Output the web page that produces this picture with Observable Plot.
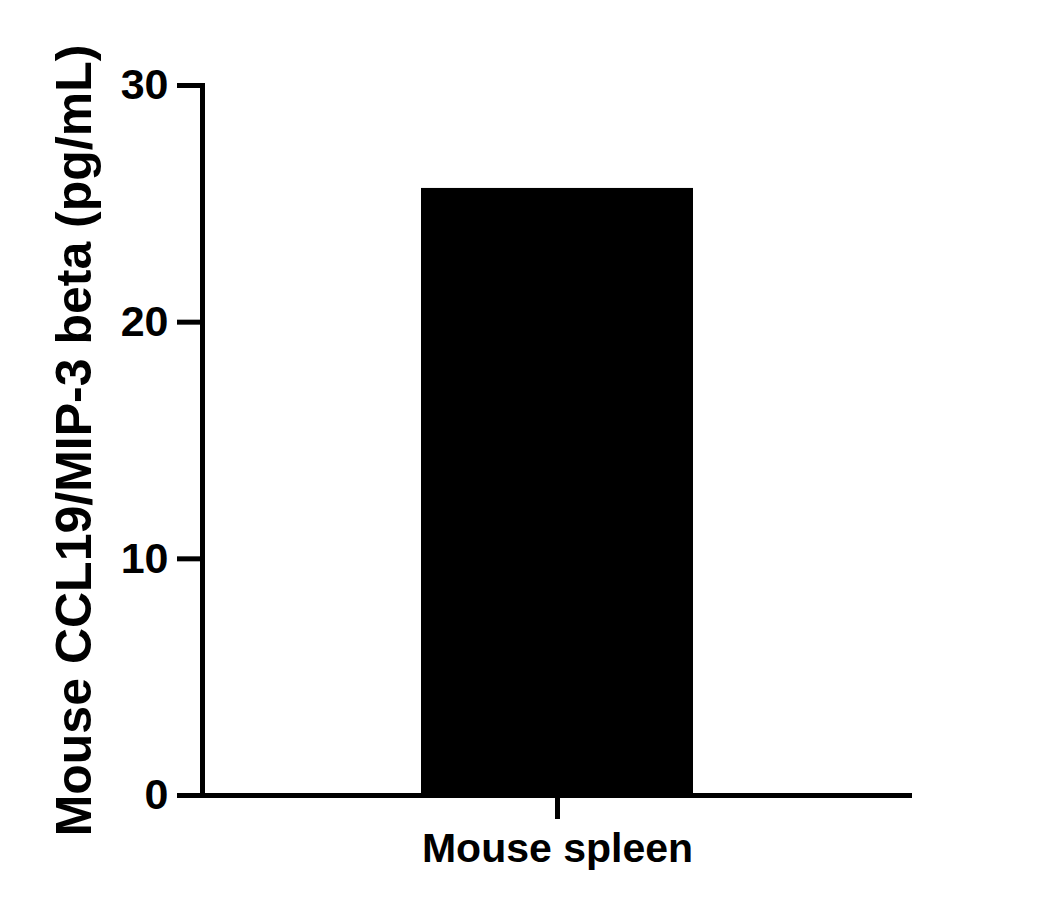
<!DOCTYPE html>
<html>
<head>
<meta charset="utf-8">
<script src="https://cdn.jsdelivr.net/npm/d3@7"></script>
<script src="https://cdn.jsdelivr.net/npm/@observablehq/plot@0.6"></script>
<style>
  html, body { margin: 0; padding: 0; background: #fff; }
  #chart svg { display: block; }
</style>
</head>
<body>
<div id="chart"></div>
<script>
const samples = ["Mouse spleen"];
const values = [25.65];
const yTicks = [0, 10, 20, 30];
const yLabel = "Mouse CCL19/MIP-3 beta (pg/mL)";

const data = samples.map((s, i) => ({sample: s, value: values[i]}));

const chart = Plot.plot({
  width: 1044,
  height: 911,
  marginTop: 85,
  marginBottom: 116,
  marginLeft: 202,
  marginRight: 132,
  style: {fontFamily: "'Liberation Sans', Arial, sans-serif", fontWeight: "bold", color: "#000", background: "#fff"},
  x: {domain: samples, padding: 0.446},
  y: {domain: [0, 30]},
  marks: [
    Plot.barY(data, {x: "sample", y: "value", fill: "#000"}),
    Plot.ruleY([0], {strokeWidth: 5, stroke: "#000"}),
    Plot.frame({anchor: "left", strokeWidth: 5, stroke: "#000"}),
    Plot.axisY({
      ticks: yTicks,
      tickSize: 25,
      tickPadding: 9,
      strokeWidth: 5,
      fontSize: 43,
      fontWeight: "bold",
      label: yLabel,
      labelAnchor: "center",
      labelArrow: "none",
      labelOffset: 147
    }),
    Plot.axisX({
      tickSize: 24,
      tickPadding: 13,
      strokeWidth: 5,
      fontSize: 41,
      fontWeight: "bold",
      label: null
    })
  ]
});
// enlarge axis label font
chart.querySelectorAll("g[aria-label='y-axis label'] text").forEach(t => {
  t.setAttribute("font-size", "50");
});
document.getElementById("chart").appendChild(chart);
</script>
</body>
</html>
